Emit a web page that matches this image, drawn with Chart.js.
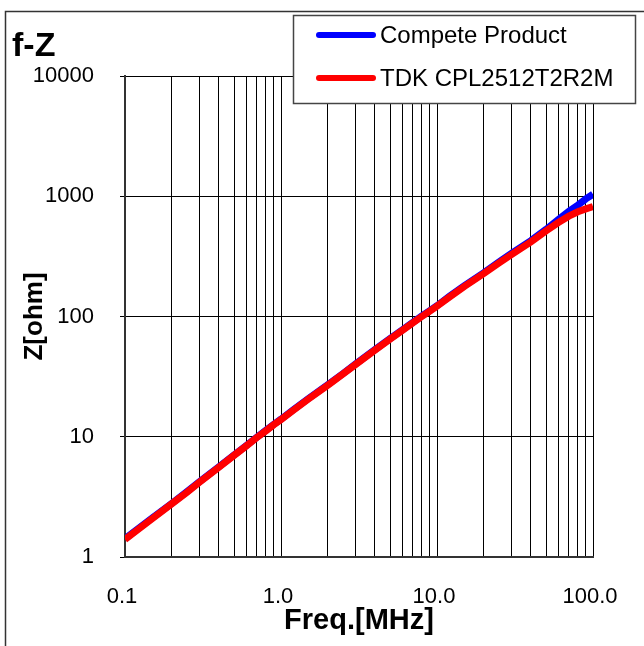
<!DOCTYPE html>
<html>
<head>
<meta charset="utf-8">
<title>f-Z</title>
<script src="https://cdn.jsdelivr.net/npm/chart.js@4.4.0/dist/chart.umd.min.js"></script>
<style>
    html, body { margin: 0; padding: 0; background: #fff; }
    #fz { display: block; }
</style>
</head>
<body>
<canvas id="fz" width="644" height="646"></canvas>
<script>
// values (frequency in MHz, impedance in ohm)
const freqMHz = [0.1, 0.12, 0.15, 0.2, 0.25, 0.3, 0.4, 0.5, 0.6, 0.7, 0.8, 0.9,
    1, 1.2, 1.5, 2, 2.5, 3, 4, 5, 6, 7, 8, 9,
    10, 12, 15, 20, 25, 30, 40, 50, 60, 70, 80, 90, 100];
const competeZ = [1.42, 1.70, 2.12, 2.80, 3.50, 4.22, 5.62, 7.05, 8.45, 9.9, 11.3, 12.7,
    14.0, 16.8, 20.8, 27.2, 33.6, 40.2, 53, 65.5, 77.5, 89.5, 101, 112,
    123, 147, 181, 232, 285, 334, 428, 530, 640, 750, 845, 950, 1040];
const tdkZ = [1.40, 1.68, 2.09, 2.78, 3.46, 4.18, 5.58, 7.0, 8.4, 9.85, 11.2, 12.6,
    13.9, 16.6, 20.6, 26.9, 33.3, 39.8, 52.5, 64.8, 76.8, 88.5, 100, 111,
    122, 145, 178, 228, 279, 327, 418, 515, 605, 683, 742, 785, 822];

const seriesNames = ['Compete Product', 'TDK CPL2512T2R2M'];
const seriesColors = ['#0000ff', '#ff0000'];

const xMajor = [0.1, 1, 10, 100];
const xTickLabels = ['0.1', '1.0', '10.0', '100.0'];
const xMinorSteps = [1, 2, 3, 4, 5, 6, 7, 8, 9];
const yTicks = [1, 10, 100, 1000, 10000];
const yTickLabels = ['1', '10', '100', '1000', '10000'];

const FONT = '"Liberation Sans", Arial, sans-serif';
Chart.defaults.font.family = FONT;
Chart.defaults.color = '#000';

function toPoints(ys) {
    return freqMHz.map((f, i) => ({x: f, y: ys[i]}));
}

const framePlugin = {
    id: 'frame',
    beforeDraw(chart) {
        let ctx = chart.ctx;
        ctx.save();
        ctx.fillStyle = '#fff';
        ctx.fillRect(0, 0, chart.width, chart.height);
        ctx.strokeStyle = '#333';
        ctx.lineWidth = 1.5;
        ctx.strokeRect(5.5, 11.5, chart.width + 20, chart.height + 20);
        ctx.fillStyle = '#000';
        ctx.font = 'bold 34px ' + FONT;
        ctx.textBaseline = 'alphabetic';
        ctx.fillText('f-Z', 12, 56);
        ctx.restore();
    },
    afterDraw(chart) {
        // legend box sits on top of the plot, like the original
        let ctx = chart.ctx;
        ctx.save();
        ctx.fillStyle = '#fff';
        ctx.fillRect(293, 15, 343, 89);
        ctx.strokeStyle = '#444';
        ctx.lineWidth = 1.5;
        ctx.strokeRect(293.5, 15.5, 342, 88);
        ctx.font = '24px ' + FONT;
        ctx.textBaseline = 'alphabetic';
        chart.data.datasets.forEach((ds, i) => {
            let y = 35 + i * 43;
            ctx.strokeStyle = ds.borderColor;
            ctx.lineWidth = 6;
            ctx.lineCap = 'round';
            ctx.beginPath();
            ctx.moveTo(319, y);
            ctx.lineTo(373, y);
            ctx.stroke();
            ctx.fillStyle = '#000';
            ctx.fillText(ds.label, 380, y + 8);
        });
        ctx.restore();
    }
};

const config = {
    type: 'line',
    data: {
        datasets: [{
                label: seriesNames[0],
                data: toPoints(competeZ),
                borderColor: seriesColors[0],
                backgroundColor: seriesColors[0],
                borderWidth: 7,
                pointRadius: 0,
                order: 1
            }, {
                label: seriesNames[1],
                data: toPoints(tdkZ),
                borderColor: seriesColors[1],
                backgroundColor: seriesColors[1],
                borderWidth: 7,
                pointRadius: 0,
                order: 0
            }]
    },
    options: {
        responsive: false,
        animation: false,
        devicePixelRatio: 1,
        layout: {padding: {left: 5, right: 51, top: 76, bottom: 0}},
        plugins: {
            legend: {display: false},
            tooltip: {enabled: false}
        },
        scales: {
            x: {
                type: 'logarithmic',
                min: xMajor[0],
                max: xMajor[xMajor.length - 1],
                afterBuildTicks: (scale) => {
                    let ticks = [];
                    xMajor.slice(0, -1).forEach((d) => {
                        xMinorSteps.forEach((m) => ticks.push({value: +(d * m).toPrecision(6)}));
                    });
                    ticks.push({value: xMajor[xMajor.length - 1]});
                    scale.ticks = ticks;
                },
                afterFit: (scale) => { scale.height = 89; },
                // invisible tick marks keep the labels low without widening the side padding
                grid: {color: '#000', lineWidth: 1, drawTicks: true, tickLength: 20, tickColor: 'rgba(0,0,0,0)'},
                border: {color: '#333', width: 2},
                ticks: {
                    autoSkip: false,
                    maxRotation: 0,
                    padding: 7,
                    labelOffset: -3,
                    font: {size: 22},
                    callback: (v) => {
                        let i = xMajor.findIndex((d) => Math.abs(d - v) < d * 1e-6);
                        return i < 0 ? '' : xTickLabels[i];
                    }
                },
                title: {
                    display: true,
                    text: 'Freq.[MHz]',
                    font: {size: 29, weight: 'bold'},
                    padding: {top: 0, bottom: 8}
                }
            },
            y: {
                type: 'logarithmic',
                min: yTicks[0],
                max: yTicks[yTicks.length - 1],
                afterBuildTicks: (scale) => {
                    scale.ticks = yTicks.map((v) => ({value: v}));
                },
                afterFit: (scale) => { scale.width = 120; },
                grid: {color: '#000', lineWidth: 1, drawTicks: true, tickLength: 5},
                border: {color: '#333', width: 2},
                ticks: {
                    padding: 26,
                    font: {size: 22},
                    callback: (v) => {
                        let i = yTicks.findIndex((d) => Math.abs(d - v) < d * 1e-6);
                        return i < 0 ? '' : yTickLabels[i];
                    }
                },
                title: {
                    display: true,
                    text: 'Z[ohm]',
                    font: {size: 26, weight: 'bold'},
                    padding: {top: 14, bottom: 0}
                }
            }
        }
    },
    plugins: [framePlugin]
};

const fzChart = new Chart(document.getElementById('fz'), config);
</script>
</body>
</html>
